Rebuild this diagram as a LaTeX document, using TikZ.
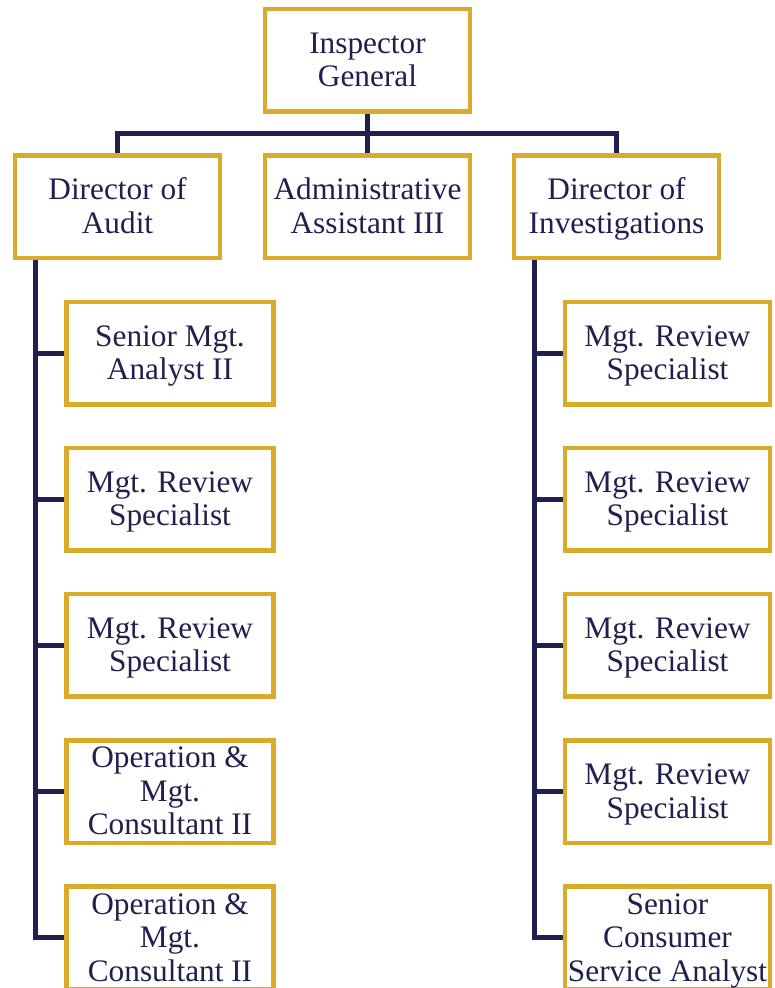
\documentclass[tikz,border=0pt]{standalone}
\usepackage{fontspec}
\setmainfont{Liberation Serif}
\usetikzlibrary{backgrounds}
\definecolor{gold}{RGB}{218,170,42}
\definecolor{navy}{RGB}{32,32,80}
\newcommand\bs{\rule[-7pt]{0pt}{33.5pt}}
\begin{document}
\begin{tikzpicture}[x=1pt,y=-1pt,
  box/.style={draw=gold, line width=4.5pt, fill=white, minimum width=205pt, minimum height=102.5pt,
    inner sep=1pt, align=center, text=navy, font=\fontsize{31.3}{33.5}\selectfont},
  lbox/.style={box, minimum width=207pt},
  conn/.style={draw=navy, line width=5pt}]
\useasboundingbox (0,0) rectangle (774,988);
% top levels
\node[box] (ig) at (367.5,60) {\bs Inspector\\General\bs};
\node[box] (dirA) at (117.5,206.7) {\bs Director of\\Audit\bs};
\node[box] (adm) at (367.5,206.7) {\bs Administrative\\Assistant III\bs};
\node[box] (dirI) at (616.5,206.7) {\bs Director of\\Investigations\bs};
% audit staff
\node[lbox] (a1) at (170,353) {\bs Senior Mgt.\\Analyst II\bs};
\node[lbox] (a2) at (170,499.2) {\bs Mgt. Review\\Specialist\bs};
\node[lbox] (a3) at (170,645.4) {\bs Mgt. Review\\Specialist\bs};
\node[lbox] (a4) at (170,791.7) {\bs Operation \&\\Mgt.\\Consultant II\bs};
\node[lbox] (a5) at (170,937.9) {\bs Operation \&\\Mgt.\\Consultant II\bs};
% investigations staff
\node[box] (i1) at (667.5,353) {\bs Mgt. Review\\Specialist\bs};
\node[box] (i2) at (667.5,499.2) {\bs Mgt. Review\\Specialist\bs};
\node[box] (i3) at (667.5,645.4) {\bs Mgt. Review\\Specialist\bs};
\node[box] (i4) at (667.5,791.7) {\bs Mgt. Review\\Specialist\bs};
\node[box] (i5) at (667.5,937.9) {\bs Senior\\Consumer\\Service Analyst\bs};
% connectors
\coordinate (bar) at (367.5,133.7);
\coordinate (la) at (35.5,260);
\coordinate (ra) at (534,260);
\begin{scope}[on background layer]
\fill[white] (0,0) rectangle (774,988);
\draw[conn] (ig.south) -- (adm.north);
\draw[conn] (dirA.north) |- (bar) -| (dirI.north);
\draw[conn] (dirA.south -| la) |- (a5.west);
\foreach \n in {a1,a2,a3,a4} \draw[conn] (\n.west -| la) -- (\n.west);
\draw[conn] (dirI.south -| ra) |- (i5.west);
\foreach \n in {i1,i2,i3,i4} \draw[conn] (\n.west -| ra) -- (\n.west);
\end{scope}
\end{tikzpicture}
\end{document}
